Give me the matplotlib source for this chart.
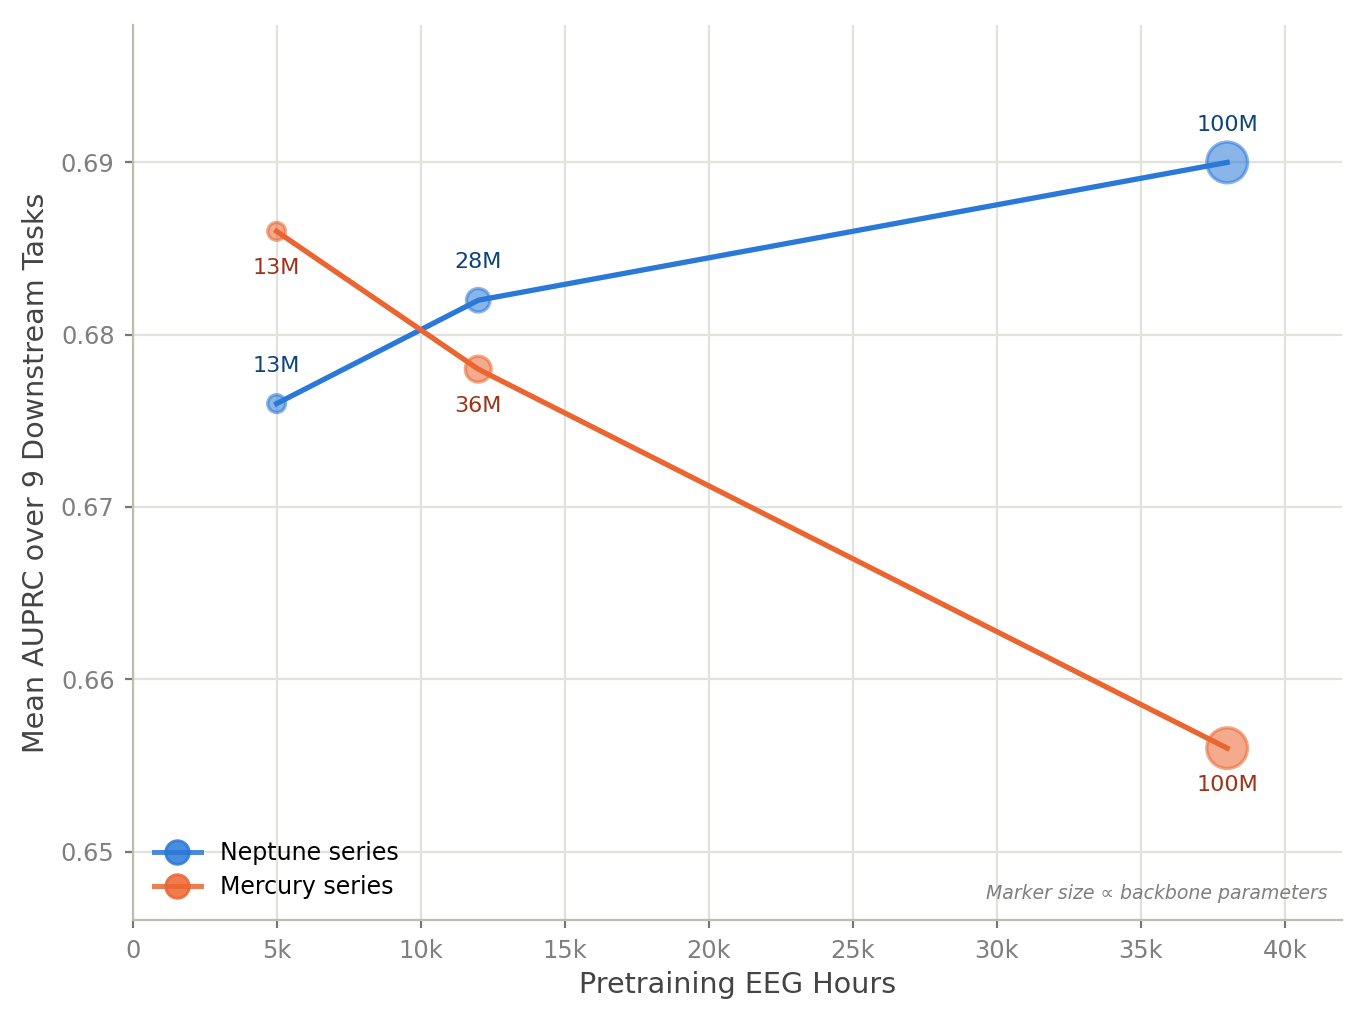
import matplotlib
matplotlib.use("Agg")
import matplotlib.pyplot as plt
from matplotlib.lines import Line2D

hours = [5000, 12000, 38000]
neptune_auprc = [0.676, 0.682, 0.690]
mercury_auprc = [0.686, 0.678, 0.656]
neptune_params = [13, 28, 100]
mercury_params = [13, 36, 100]
neptune_labels = ["13M", "28M", "100M"]
mercury_labels = ["13M", "36M", "100M"]
xticks = [0, 5000, 10000, 15000, 20000, 25000, 30000, 35000, 40000]
xticklabels = ["0", "5k", "10k", "15k", "20k", "25k", "30k", "35k", "40k"]
yticks = [0.65, 0.66, 0.67, 0.68, 0.69]

blue = "#2a78d8"
orange = "#eb6530"
blue_txt = "#0f437f"
orange_txt = "#9e3218"
grey = "#7f7f7f"
spine_c = "#bdbdb2"
grid_c = "#e2e2dd"

fig, ax = plt.subplots(figsize=(6.835, 5.125), dpi=200)
fig.subplots_adjust(left=0.097, right=0.982, top=0.976, bottom=0.102)

def sz(p):
    return 15 + 2.0 * p

ax.scatter(hours, neptune_auprc, s=[sz(p) for p in neptune_params], color=blue,
           alpha=0.55, edgecolors=blue, linewidths=1.2, zorder=2)
ax.scatter(hours, mercury_auprc, s=[sz(p) for p in mercury_params], color=orange,
           alpha=0.55, edgecolors=orange, linewidths=1.2, zorder=2)
ax.plot(hours, neptune_auprc, color=blue, lw=1.9, zorder=3)
ax.plot(hours, mercury_auprc, color=orange, lw=1.9, zorder=3)

for x, y, t in zip(hours, neptune_auprc, neptune_labels):
    ax.annotate(t, (x, y), xytext=(0, 10), textcoords="offset points",
                ha="center", va="bottom", fontsize=8, color=blue_txt)
for x, y, t in zip(hours, mercury_auprc, mercury_labels):
    ax.annotate(t, (x, y), xytext=(0, -9.5), textcoords="offset points",
                ha="center", va="top", fontsize=8, color=orange_txt)

ax.set_xlim(0, 42000)
ax.set_ylim(0.646, 0.698)
ax.set_xticks(xticks)
ax.set_xticklabels(xticklabels)
ax.set_yticks(yticks)
ax.set_yticklabels([f"{v:.2f}" for v in yticks])
ax.grid(True, color=grid_c, lw=0.8)
ax.set_axisbelow(True)
for s in ["top", "right"]:
    ax.spines[s].set_visible(False)
for s in ["left", "bottom"]:
    ax.spines[s].set_color(spine_c)
    ax.spines[s].set_linewidth(0.8)
ax.tick_params(colors=grey, labelsize=8.7, length=3, width=0.8)
ax.tick_params(axis="both", color="#777777")

ax.set_xlabel("Pretraining EEG Hours", fontsize=10.3, color="#444444", labelpad=3)
ax.set_ylabel("Mean AUPRC over 9 Downstream Tasks", fontsize=10.3, color="#444444", labelpad=4)

handles = [
    Line2D([0], [0], color=blue, lw=1.8, marker="o", markersize=8.5, alpha=0.85),
    Line2D([0], [0], color=orange, lw=1.8, marker="o", markersize=8.5, alpha=0.85),
]
ax.legend(handles, ["Neptune series", "Mercury series"], loc="lower left",
          frameon=False, fontsize=8.5, handlelength=2.0, borderaxespad=0.5,
          labelspacing=0.42)

ax.text(0.988, 0.02, "Marker size \u221d backbone parameters", transform=ax.transAxes,
        ha="right", va="bottom", fontsize=6.8, style="italic", color=grey)

fig.savefig("out.png", dpi=200)
